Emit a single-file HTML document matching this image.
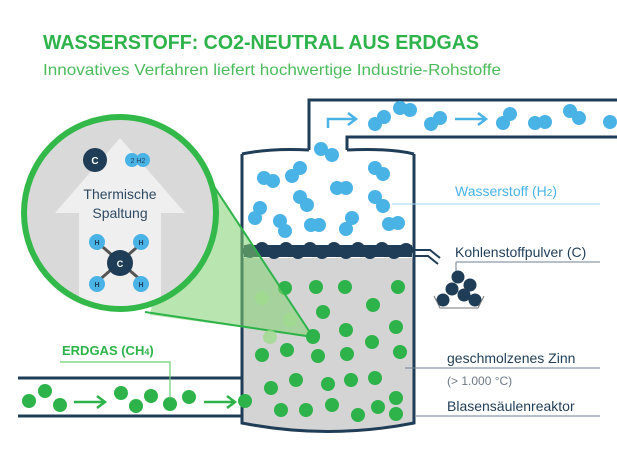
<!DOCTYPE html>
<html><head><meta charset="utf-8"><style>html,body{margin:0;padding:0;background:#fff;}svg{display:block}</style></head>
<body>
<svg width="617" height="458" viewBox="0 0 617 458" xmlns="http://www.w3.org/2000/svg" font-family="Liberation Sans, sans-serif">
<rect width="617" height="458" fill="#fff"/>
<text x="43" y="49" font-size="20" font-weight="bold" fill="#2db34a" textLength="436" lengthAdjust="spacingAndGlyphs">WASSERSTOFF: CO2-NEUTRAL AUS ERDGAS</text>
<text x="43" y="75" font-size="16" fill="#4cbb5c" textLength="458" lengthAdjust="spacingAndGlyphs">Innovatives Verfahren liefert hochwertige Industrie-Rohstoffe</text>

<!-- top pipe -->
<path d="M309 150 V100 H617" fill="none" stroke="#1f3d57" stroke-width="3"/>
<path d="M347 150 V137 H617" fill="none" stroke="#1f3d57" stroke-width="3"/>
<path d="M328 128 V119 H355" fill="none" stroke="#4ab3e6" stroke-width="2.5"/>
<path d="M348 113 L356 119 L348 125" fill="none" stroke="#4ab3e6" stroke-width="2.5"/>
<path d="M455 119 H485 M478 113 L486 119 L478 125" fill="none" stroke="#4ab3e6" stroke-width="2.5"/>
<g fill="#4ab3e6">
<circle cx="375" cy="124" r="7"/><circle cx="384" cy="117" r="7"/>
<circle cx="400" cy="108" r="7"/><circle cx="410" cy="110" r="7"/>
<circle cx="431" cy="124" r="7"/><circle cx="440" cy="118" r="7"/>
<circle cx="503" cy="123" r="7"/><circle cx="510" cy="114" r="7"/>
<circle cx="535" cy="123" r="7"/><circle cx="545" cy="122" r="7"/>
<circle cx="570" cy="111" r="7"/><circle cx="579" cy="118" r="7"/>
<circle cx="610" cy="122" r="7"/>
</g>

<!-- reactor -->
<path d="M242 258 V423 Q328 440 414 423 V258 Z" fill="#d4d4d4"/>
<path d="M242 154 Q270 148 309 150 M347 150 Q390 148 414 154 M242 154 V423 Q328 440 414 423 V154" fill="none" stroke="#1f3d57" stroke-width="3"/>
<path d="M414 250 H430 L440 258 M414 256 H428 L438 264" fill="none" stroke="#1f3d57" stroke-width="2"/>
<g fill="#4ab3e6">
<circle cx="321" cy="149" r="7"/><circle cx="332" cy="155" r="7"/>
<circle cx="264" cy="178" r="7"/><circle cx="273" cy="181" r="7"/>
<circle cx="292" cy="176" r="7"/><circle cx="300" cy="168" r="7"/>
<circle cx="375" cy="168" r="7"/><circle cx="383" cy="174" r="7"/>
<circle cx="337" cy="188" r="7"/><circle cx="346" cy="188" r="7"/>
<circle cx="300" cy="197" r="7"/><circle cx="307" cy="205" r="7"/>
<circle cx="375" cy="197" r="7"/><circle cx="383" cy="206" r="7"/>
<circle cx="260" cy="208" r="7"/><circle cx="255" cy="218" r="7"/>
<circle cx="280" cy="221" r="7"/><circle cx="285" cy="231" r="7"/>
<circle cx="311" cy="225" r="7"/><circle cx="319" cy="225" r="7"/>
<circle cx="352" cy="218" r="7"/><circle cx="346" cy="229" r="7"/>
<circle cx="389" cy="224" r="7"/><circle cx="398" cy="223" r="7"/>
</g>
<g fill="#1f3d57">
<rect x="244" y="245" width="168" height="12"/>
<circle cx="250" cy="251" r="7"/><circle cx="262" cy="249" r="7"/><circle cx="274" cy="252" r="7"/><circle cx="286" cy="249" r="7"/><circle cx="298" cy="252" r="7"/><circle cx="310" cy="249" r="7"/><circle cx="322" cy="252" r="7"/><circle cx="334" cy="249" r="7"/><circle cx="346" cy="252" r="7"/><circle cx="358" cy="249" r="7"/><circle cx="370" cy="252" r="7"/><circle cx="382" cy="249" r="7"/><circle cx="394" cy="252" r="7"/><circle cx="406" cy="250" r="7"/>
</g>
<g fill="#2db34a">
<circle cx="285" cy="288" r="7"/><circle cx="316" cy="287" r="7"/><circle cx="345" cy="287" r="7"/><circle cx="398" cy="287" r="7"/>
<circle cx="323" cy="312" r="7"/><circle cx="373" cy="305" r="7"/>
<circle cx="346" cy="330" r="7"/><circle cx="396" cy="327" r="7"/><circle cx="372" cy="342" r="7"/>
<circle cx="313" cy="336" r="7"/>
<circle cx="262" cy="355" r="7"/><circle cx="287" cy="350" r="7"/><circle cx="318" cy="356" r="7"/><circle cx="347" cy="354" r="7"/><circle cx="400" cy="352" r="7"/>
<circle cx="375" cy="378" r="7"/><circle cx="296" cy="380" r="7"/><circle cx="328" cy="384" r="7"/><circle cx="351" cy="380" r="7"/><circle cx="396" cy="398" r="7"/>
<circle cx="271" cy="388" r="7"/><circle cx="378" cy="407" r="7"/>
<circle cx="245" cy="401" r="7"/><circle cx="281" cy="410" r="7"/><circle cx="306" cy="410" r="7"/><circle cx="332" cy="405" r="7"/><circle cx="358" cy="415" r="7"/><circle cx="396" cy="414" r="7"/>
</g>

<!-- inlet pipe -->
<path d="M18 378 H242 M18 416 H242" stroke="#1f3d57" stroke-width="3"/>
<g fill="#2db34a">
<circle cx="29" cy="401" r="7"/><circle cx="45" cy="391" r="7"/><circle cx="60" cy="405" r="7"/>
<circle cx="121" cy="393" r="7"/><circle cx="136" cy="406" r="7"/><circle cx="151" cy="396" r="7"/><circle cx="170" cy="404" r="7"/><circle cx="189" cy="397" r="7"/>
</g>
<path d="M74 402 H104 M97 396 L105 402 L97 408 M204 402 H234 M227 396 L235 402 L227 408" fill="none" stroke="#2db34a" stroke-width="2.5"/>
<text x="62" y="355" font-size="13" font-weight="bold" fill="#2db34a">ERDGAS (CH<tspan font-size="9">4</tspan>)</text>
<path d="M60 362 H170 V398" fill="none" stroke="#6ccf78" stroke-width="1.2"/>

<!-- zoom cone -->
<polygon points="185,140 313,337 150,315" fill="#7fcf6f" fill-opacity="0.55"/>
<path d="M190 150 L313 337 L145 312" fill="none" stroke="#2db34a" stroke-width="2"/>
<g fill="#9fdc8e" opacity="0.8"><circle cx="262" cy="298" r="7"/><circle cx="290" cy="320" r="7"/><circle cx="270" cy="337" r="7"/></g>
<circle cx="313" cy="337" r="7" fill="#2db34a"/>

<!-- magnifier circle -->
<circle cx="120" cy="213" r="96" fill="#d9d9d9" stroke="#33b84a" stroke-width="6"/>
<clipPath id="c"><circle cx="120" cy="213" r="93"/></clipPath>
<polygon clip-path="url(#c)" points="120,138 185,213 161,213 161,320 79,320 79,213 55,213" fill="#efefef"/>
<circle cx="95" cy="160" r="12" fill="#1f3d57"/><text x="95" y="164" font-size="10" font-weight="bold" fill="#fff" text-anchor="middle">C</text>
<circle cx="132" cy="160" r="7" fill="#4ab3e6"/><circle cx="143" cy="160" r="7" fill="#4ab3e6"/>
<text x="138" y="163" font-size="7" fill="#1f3d57" text-anchor="middle">2 H2</text>
<text x="120" y="199" font-size="14" fill="#2f4a63" text-anchor="middle">Thermische</text>
<text x="120" y="218" font-size="14" fill="#2f4a63" text-anchor="middle">Spaltung</text>
<path d="M97 242 L143 282 M143 242 L97 282" stroke="#555" stroke-width="3"/>
<g fill="#4ab3e6"><circle cx="97" cy="242" r="8"/><circle cx="141" cy="242" r="8"/><circle cx="97" cy="284" r="8"/><circle cx="141" cy="284" r="8"/></g>
<g font-size="7" font-weight="bold" fill="#1f3d57" text-anchor="middle"><text x="97" y="245">H</text><text x="141" y="245">H</text><text x="97" y="287">H</text><text x="141" y="287">H</text></g>
<circle cx="120" cy="263" r="13" fill="#1f3d57"/><text x="120" y="267" font-size="9" font-weight="bold" fill="#fff" text-anchor="middle">C</text>

<!-- labels -->
<text x="455" y="196" font-size="14" fill="#4ab3e6">Wasserstoff (H<tspan font-size="10">2</tspan>)</text>
<path d="M392 204 H600" stroke="#9fd6f2" stroke-width="1"/>
<text x="455" y="257" font-size="14" fill="#1f3d57">Kohlenstoffpulver (C)</text>
<path d="M456 262 H600 M456 262 V272" stroke="#6f8293" stroke-width="1" fill="none"/>
<g fill="#1f3d57"><circle cx="458" cy="277" r="6.5"/><circle cx="470" cy="285" r="6.5"/><circle cx="452" cy="289" r="6.5"/><circle cx="464" cy="295" r="6.5"/><circle cx="443" cy="300" r="6.5"/><circle cx="475" cy="300" r="6.5"/></g>
<path d="M434 296 L440 308 H478 L484 296" fill="none" stroke="#777" stroke-width="1"/>
<text x="447" y="363" font-size="14" fill="#1f3d57">geschmolzenes Zinn</text>
<path d="M405 368 H600" stroke="#6f8293" stroke-width="1"/>
<text x="447" y="385" font-size="12" fill="#6d7a86">(&gt; 1.000 °C)</text>
<text x="447" y="411" font-size="14" fill="#1f3d57">Blasensäulenreaktor</text>
<path d="M416 416 H600" stroke="#6f8293" stroke-width="1"/>
</svg>
</body></html>
